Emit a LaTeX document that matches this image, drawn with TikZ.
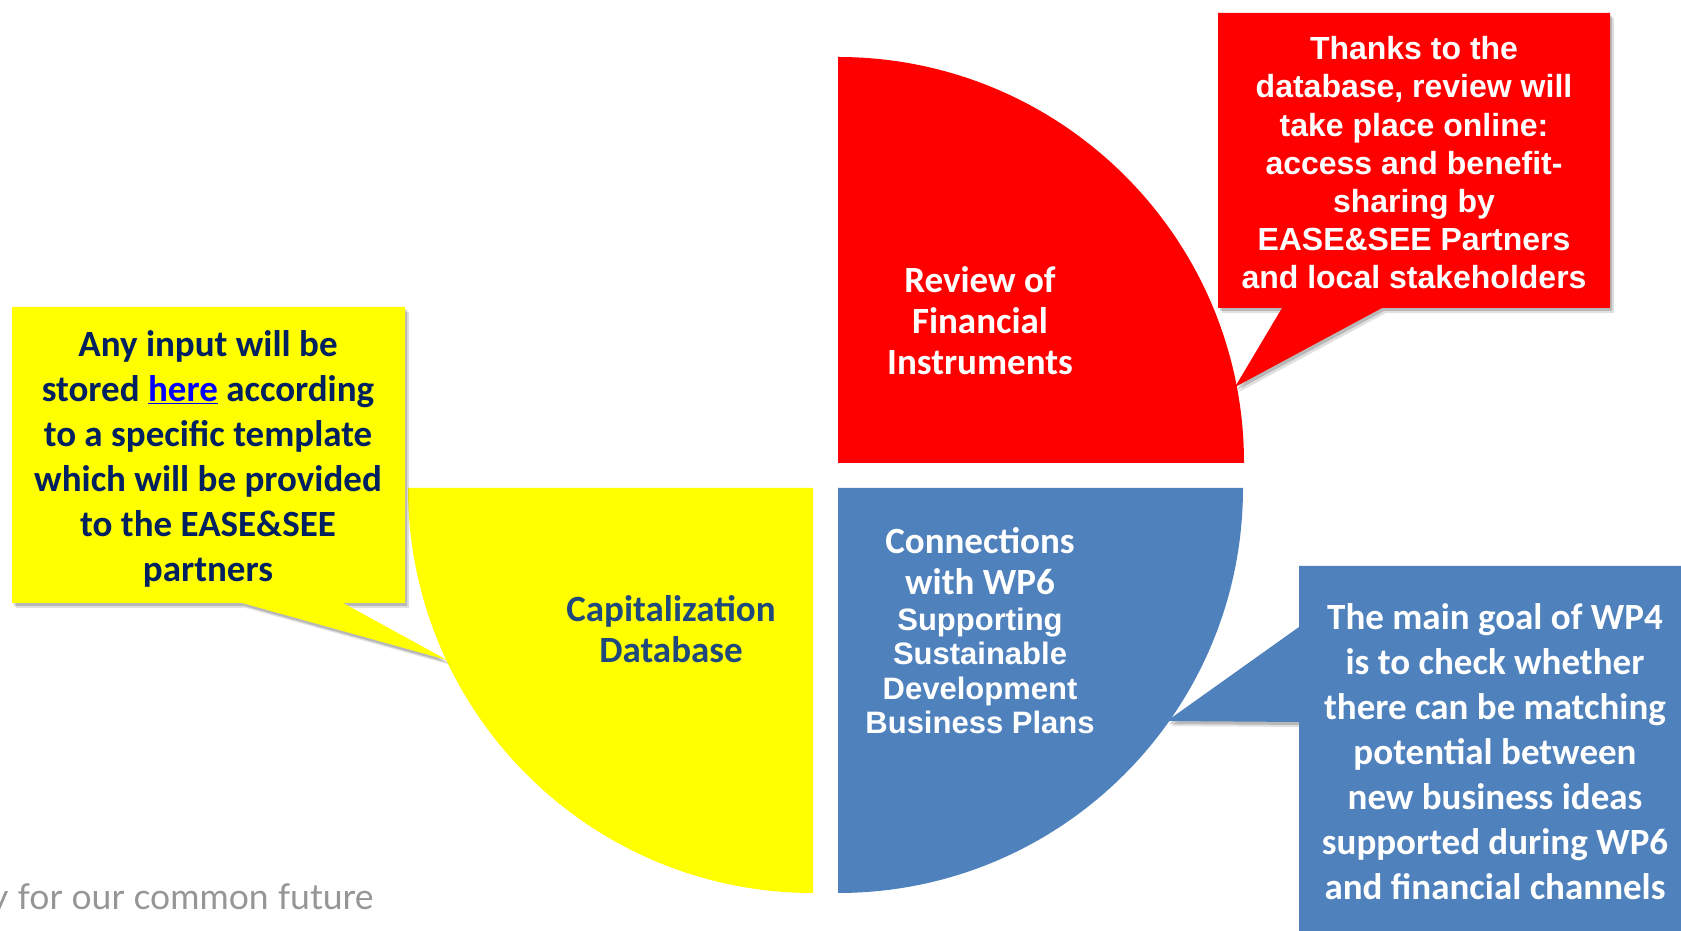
\documentclass[tikz,border=0pt]{standalone}
\usepackage{fontspec}
\newfontfamily\calibri{Carlito}
\newfontfamily\arialf{Liberation Sans}
\newfontfamily\gillf{Lato}
\definecolor{pieRed}{RGB}{255,0,0}
\definecolor{pieYellow}{RGB}{255,255,0}
\definecolor{pieBlue}{RGB}{79,129,189}
\definecolor{navyText}{RGB}{0,32,96}
\definecolor{dbText}{RGB}{31,73,125}
\definecolor{linkBlue}{RGB}{0,0,255}
\definecolor{footGrey}{RGB}{150,150,150}
\tikzset{
  sector/.style={draw=none},
  callout/.style={draw=none,
    preaction={fill=black,opacity=0.12,transform canvas={shift={(4pt,-5pt)}}},
    preaction={fill=black,opacity=0.18,transform canvas={shift={(2pt,-3pt)}}}},
  calibriBig/.style={inner sep=0pt,align=center,
    font=\calibri\bfseries\fontsize{37}{41}\selectfont},
  calloutCal/.style={inner sep=0pt,align=center,
    font=\calibri\bfseries\fontsize{37}{45}\selectfont},
  arialBlue/.style={inner sep=0pt,align=center,
    font=\arialf\bfseries\fontsize{31}{34.6}\selectfont},
  arialRed/.style={inner sep=0pt,align=center,
    font=\arialf\bfseries\fontsize{32}{38.2}\selectfont},
}
\begin{document}
\begin{tikzpicture}[x=1pt,y=1pt]
\useasboundingbox (0,0) rectangle (1681,931);

% pie sectors
\coordinate (cRed) at (838,468);
\coordinate (cBlue) at (838,443);
\coordinate (cYel) at (813,443);
\fill[sector,pieRed] (cRed) -- (838,874) arc[start angle=90,end angle=0,radius=406pt] -- cycle;
\fill[sector,pieBlue] (cBlue) -- (1243,443) arc[start angle=0,end angle=-90,radius=405pt] -- cycle;
\fill[sector,pieYellow] (cYel) -- (813,38) arc[start angle=-90,end angle=-180,radius=405pt] -- cycle;

% callouts
\coordinate (tipYel) at (447,271);
\coordinate (tipRed) at (1235,544);
\coordinate (tipBlue) at (1167,210);
\fill[callout,pieYellow] (12,624) -- (405,624) -- (405,328) -- (343,328) -- (tipYel) -- (242,328) -- (12,328) -- cycle;
\fill[callout,pieRed] (1218,918) -- (1610,918) -- (1610,623) -- (1382,623) -- (tipRed) -- (1282,623) -- (1218,623) -- cycle;
\fill[callout,pieBlue] (1299,365) -- (1690,365) -- (1690,-10) -- (1299,-10) -- (1299,209) -- (tipBlue) -- (1299,304) -- cycle;

% sector labels (anchor=base is the last line's baseline)
\node[calibriBig,text=white,anchor=base] (tRed) at (980,556) {Review of\\Financial\\Instruments};
\node[calibriBig,text=dbText,anchor=base] (tYel) at (671,268) {Capitalization\\Database};
\node[calibriBig,text=white,anchor=base] (tBlueA) at (980,336) {Connections\\with WP6};
\node[arialBlue,text=white,anchor=base] (tBlueB) at (980,197) {Supporting\\Sustainable\\Development\\Business Plans};

% callout texts
\node[calloutCal,text=navyText,anchor=base] (cYelT) at (208,349) {Any input will be\\stored {\color{linkBlue}\underline{here}} according\\to a specific template\\which will be provided\\to the EASE\&SEE\\partners};
\node[arialRed,text=white,anchor=base] (cRedT) at (1414,642) {Thanks to the\\database, review will\\take place online:\\access and benefit-\\sharing by\\EASE\&SEE Partners\\and local stakeholders};
\node[calloutCal,text=white,anchor=base] (cBlueT) at (1495,31) {The main goal of WP4\\is to check whether\\there can be matching\\potential between\\new business ideas\\supported during WP6\\and financial channels};

% footer
\node[inner sep=0pt,anchor=base west,text=footGrey,font=\gillf\fontsize{35.5}{40}\selectfont] (foot) at (-10,21) {y for our common future};
\end{tikzpicture}
\end{document}
